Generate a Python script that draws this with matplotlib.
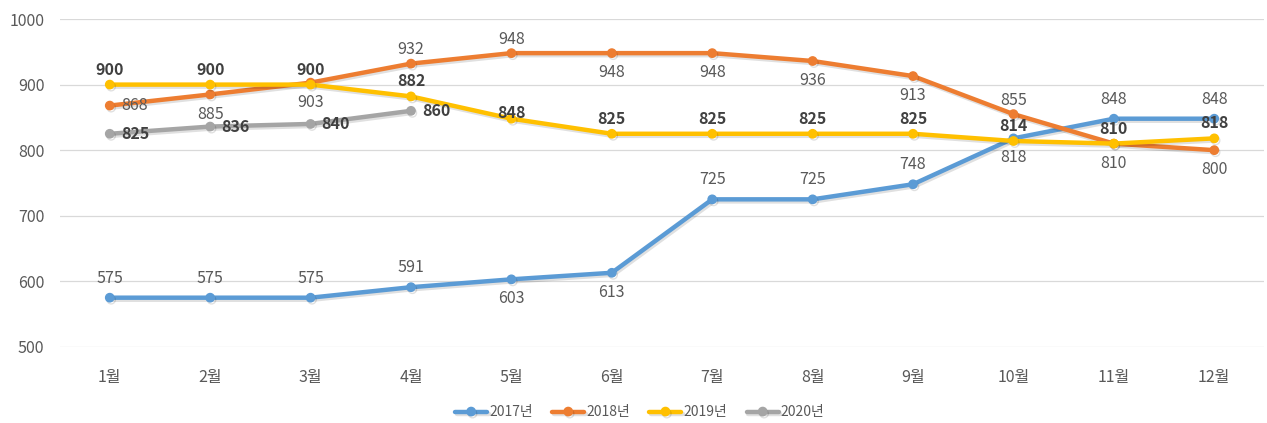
import matplotlib
matplotlib.use("Agg")
import matplotlib.pyplot as plt
import matplotlib.patheffects as pe

plt.rcParams['font.family'] = ['Noto Sans CJK KR', 'DejaVu Sans']

months = ['1월', '2월', '3월', '4월', '5월', '6월', '7월', '8월', '9월', '10월', '11월', '12월']
y2017 = [575, 575, 575, 591, 603, 613, 725, 725, 748, 818, 848, 848]
y2018 = [868, 885, 903, 932, 948, 948, 948, 936, 913, 855, 810, 800]
y2019 = [900, 900, 900, 882, 848, 825, 825, 825, 825, 814, 810, 818]
y2020 = [825, 836, 840, 860]

# where each value label sits: a=above, b=below, c=on point, r=right
pos2017 = list('aaaabbaaabaa')
pos2018 = list('rbbaabbbbabb')
pos2019 = list('aaaacaaaaaaa')
pos2020 = list('rrrr')

series = [
    ('2017년', y2017, pos2017, '#5B9BD5', False, 8),
    ('2018년', y2018, pos2018, '#ED7D31', False, 4),
    ('2019년', y2019, pos2019, '#FFC000', True, 5),
    ('2020년', y2020, pos2020, '#A5A5A5', True, 5),
]

fig = plt.figure(figsize=(12.67, 4.23), dpi=100)
ax = fig.add_axes([0.047, 0.18, 0.951, 0.775])

shadow = [pe.SimpleLineShadow(offset=(1, -1.5), alpha=0.12), pe.Normal()]

for name, vals, pos, col, bold, up in series:
    x = list(range(len(vals)))
    ax.plot(x, vals, color=col, lw=3.2, marker='o', ms=6, label=name,
            solid_capstyle='round', path_effects=shadow)
    for xi, v, p in zip(x, vals, pos):
        if p == 'a':
            off, ha, va = (0, up), 'center', 'bottom'
        elif p == 'b':
            off, ha, va = (0, -8), 'center', 'top'
        elif p == 'c':
            off, ha, va = (0, 4), 'center', 'center'
        else:
            off, ha, va = (8, 0), 'left', 'center'
        ax.annotate(str(v), (xi, v), xytext=off, textcoords='offset points',
                    ha=ha, va=va, fontsize=11.5,
                    color='#404040' if bold else '#595959',
                    fontweight='bold' if bold else 'normal')

ax.set_xlim(-0.5, 11.5)
ax.set_ylim(500, 1000)
ax.set_yticks([500, 600, 700, 800, 900, 1000])
ax.set_xticks(range(len(months)))
ax.set_xticklabels(months)
ax.grid(axis='y', color='#D9D9D9', lw=0.9)
ax.set_axisbelow(True)
for s in ax.spines.values():
    s.set_visible(False)
ax.tick_params(axis='both', length=0, labelsize=11.5, colors='#595959')
ax.tick_params(axis='x', pad=16)
ax.tick_params(axis='y', pad=11)

leg = fig.legend(loc='center', bbox_to_anchor=(0.505, 0.025), ncol=4, frameon=False,
                 fontsize=10, handlelength=2.3, columnspacing=1.4, handletextpad=0.15,
                 labelcolor='#595959')

fig.savefig('out.png', dpi=100)
